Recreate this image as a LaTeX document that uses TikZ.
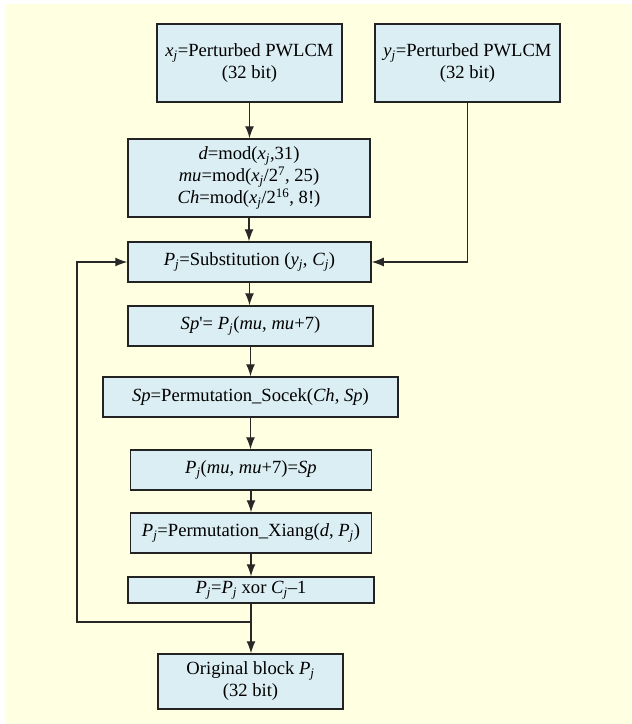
\documentclass[tikz,border=0pt]{standalone}
\usepackage{fontspec}
\setmainfont{Liberation Serif}
\usetikzlibrary{arrows.meta}

\definecolor{paper}{RGB}{255,255,225}
\definecolor{boxfill}{RGB}{219,238,244}
\definecolor{boxedge}{RGB}{35,35,35}
\definecolor{wire}{RGB}{40,40,40}

% italic subscript / upright superscript for inline formulas
\newcommand{\isub}[1]{\textsubscript{\itshape #1}}
\newcommand{\usup}[1]{\textsuperscript{#1}}

\tikzset{
  procbox/.style={draw=boxedge, fill=boxfill, line width=1.5pt, align=center,
    inner sep=0pt, font=\fontsize{18.6}{22}\selectfont},
  flow/.style={draw=wire, line width=1.25pt, -{Latex[length=12pt,width=9pt]}},
}

\begin{document}
\begin{tikzpicture}[x=1pt,y=-1pt]
  \useasboundingbox (0,0) rectangle (632,724);
  \fill[paper] (6,4) rectangle (632,724);

  % inputs
  \node[procbox, minimum width=185pt, minimum height=78pt] (xgen) at (249.5,63)
    {\textit{x}\isub{j}=Perturbed PWLCM\\(32 bit)};
  \node[procbox, minimum width=185pt, minimum height=78pt] (ygen) at (467.5,63)
    {\textit{y}\isub{j}=Perturbed PWLCM\\(32 bit)};

  % key derivation
  \node[procbox, minimum width=242pt, minimum height=78pt] (keys) at (249,178)
    {\textit{d}=mod(\textit{x}\isub{j},31)\\
     \textit{mu}=mod(\textit{x}\isub{j}/2\usup{7}, 25)\\
     \textit{Ch}=mod(\textit{x}\isub{j}/2\usup{16}, 8!)};

  % processing chain
  \node[procbox, minimum width=243pt, minimum height=40pt] (subst) at (249.5,262)
    {\textit{P}\isub{j}=Substitution (\textit{y}\isub{j}, \textit{C}\isub{j})};
  \node[procbox, minimum width=245pt, minimum height=40pt] (extract) at (250.5,326)
    {\textit{Sp}\textquotesingle= \textit{P}\isub{j}(\textit{mu}, \textit{mu}+7)};
  \node[procbox, minimum width=295pt, minimum height=40pt] (socek) at (250.5,397)
    {\textit{Sp}=Permutation\_Socek(\textit{Ch}, \textit{Sp})};
  \node[procbox, minimum width=241pt, minimum height=40pt] (insert) at (251,470)
    {\textit{P}\isub{j}(\textit{mu}, \textit{mu}+7)=\textit{Sp}};
  \node[procbox, minimum width=241pt, minimum height=40pt] (xiang) at (251,533)
    {\textit{P}\isub{j}=Permutation\_Xiang(\textit{d}, \textit{P}\isub{j})};
  \node[procbox, minimum width=246pt, minimum height=26pt] (xorbox) at (251,590)
    {\textit{P}\isub{j}=\textit{P}\isub{j} xor \textit{C}\isub{j}--1};

  % output
  \node[procbox, minimum width=185pt, minimum height=55pt] (orig) at (250.5,681.5)
    {Original block \textit{P}\isub{j}\\(32 bit)};

  \coordinate (loopcorner) at (77,622);

  % main flow
  \draw[flow] (xgen.south) -- (xgen.south |- keys.north);
  \draw[flow] (keys.south) -- (keys.south |- subst.north);
  \draw[flow] (subst.south) -- (subst.south |- extract.north);
  \draw[flow] (extract.south) -- (extract.south |- socek.north);
  \draw[flow] (socek.south) -- (socek.south |- insert.north);
  \draw[flow] (insert.south) -- (insert.south |- xiang.north);
  \draw[flow] (xiang.south) -- (xiang.south |- xorbox.north);
  \draw[flow] (xorbox.south) -- (xorbox.south |- orig.north);

  % side input and feedback loop
  \draw[flow] (ygen.south) |- (subst.east);
  \draw[flow] (xorbox.south |- loopcorner) -- (loopcorner) |- (subst.west);
\end{tikzpicture}
\end{document}
